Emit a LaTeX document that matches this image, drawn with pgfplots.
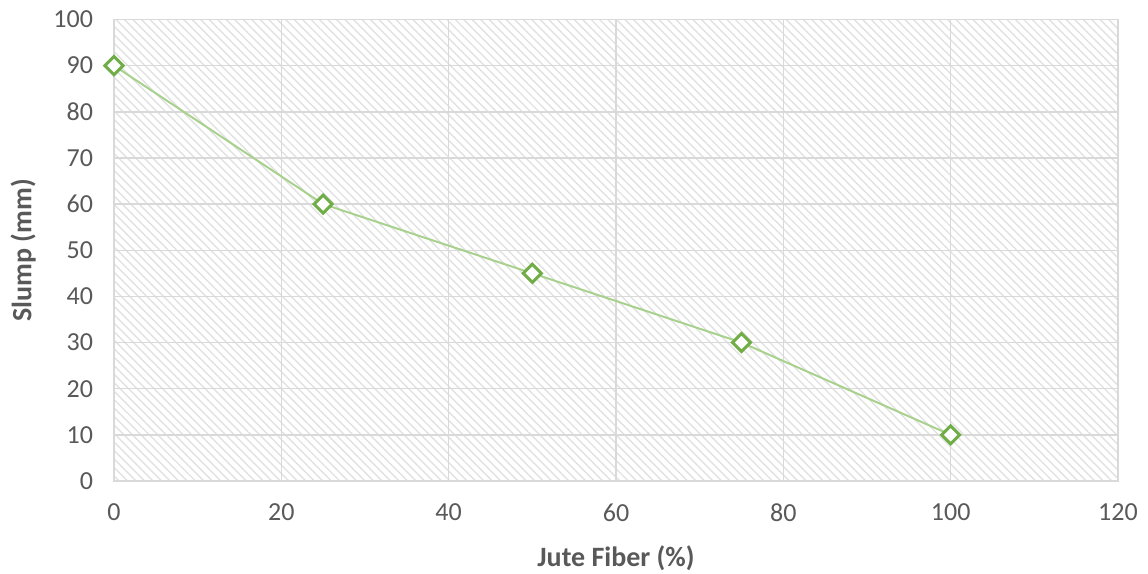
\documentclass[border=0pt]{standalone}
\usepackage{fontspec}
\setmainfont{Carlito}
\usepackage{pgfplots}
\pgfplotsset{compat=1.18}
\usetikzlibrary{patterns.meta}
\definecolor{gridc}{HTML}{D9D9D9}
\definecolor{txt}{HTML}{595959}
\definecolor{linec}{HTML}{A9D18E}
\definecolor{markc}{HTML}{70AD47}
\definecolor{hatch}{HTML}{E1E1E1}
\begin{document}
\begin{tikzpicture}
\fontsize{13pt}{15pt}\selectfont
\begin{axis}[
  at={(57pt,46.5pt)}, anchor=south west,
  width=502pt, height=230.75pt, scale only axis,
  xmin=0, xmax=120, ymin=0, ymax=100,
  xtick={0,20,...,120}, ytick={0,10,...,100},
  grid=major,
  major grid style={gridc, line width=0.75pt},
  axis line style={gridc, line width=0.75pt},
  tick style={draw=none},
  ticklabel style={font=\fontsize{13pt}{15pt}\selectfont, text=txt},
  /pgf/number format/assume math mode=true,
  xticklabel style={yshift=-7pt},
  yticklabel style={xshift=-6pt},
  xlabel={\textbf{Jute Fiber (\%)}},
  ylabel={\textbf{Slump (mm)}},
  label style={font=\fontsize{14pt}{16pt}\selectfont, text=txt},
  xlabel style={yshift=-3pt},
  ylabel style={yshift=0pt},
  axis background/.style={pattern={Lines[angle=-45,distance=3pt,line width=0.7pt]}, pattern color=hatch},
]
\addplot[linec, line width=1pt, mark=square*, mark size=3.2pt,
  mark options={draw=markc, fill=white, line width=1.5pt, rotate=45}]
  coordinates {(0,90) (25,60) (50,45) (75,30) (100,10)};
\end{axis}
\pgfresetboundingbox
\path (0,0) rectangle (574pt,287pt);
\end{tikzpicture}
\end{document}
